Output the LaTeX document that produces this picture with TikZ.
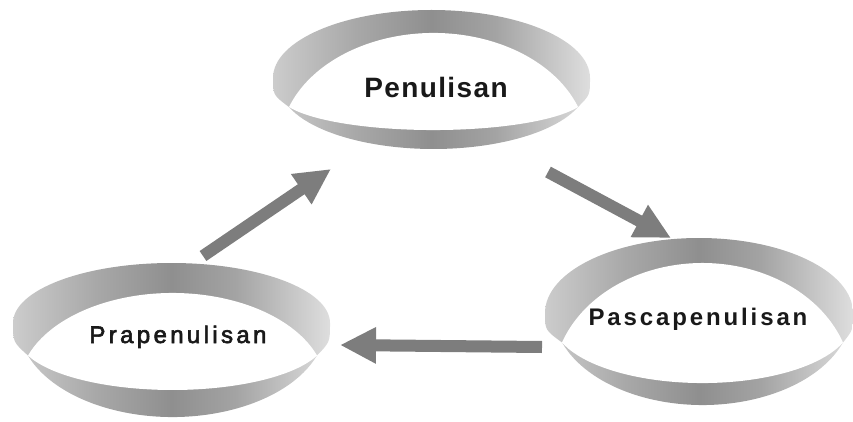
\documentclass[tikz,border=0pt]{standalone}
\usepackage{fontspec}
\usetikzlibrary{arrows.meta}
\newfontfamily\penfont[LetterSpace=5]{Liberation Sans}
\newfontfamily\pasfont[LetterSpace=12]{Liberation Sans}
\newfontfamily\prafont[LetterSpace=14,FakeBold=2.5]{Liberation Sans}
\definecolor{bandL}{gray}{0.80}
\definecolor{bandLM}{gray}{0.66}
\definecolor{bandM}{gray}{0.56}
\definecolor{bandRM}{gray}{0.64}
\definecolor{bandR}{gray}{0.87}
\definecolor{arrowgray}{RGB}{125,125,125}
\pgfdeclarehorizontalshading{bandshade}{100bp}{color(0bp)=(bandL); color(25bp)=(bandL); color(38bp)=(bandLM); color(50bp)=(bandM); color(60bp)=(bandRM); color(75bp)=(bandR); color(100bp)=(bandR)}
\tikzset{
  flowarrow/.style={draw=arrowgray, line width=12pt, line cap=butt,
    -{Triangle[width=34pt,length=36pt]}, arrowgray},
  band/.style={shading=bandshade, draw=none},
  hole/.style={fill=white, draw=none},
  label/.style={anchor=base, inner sep=0pt, text=black!90}
}
\begin{document}
\begin{tikzpicture}[x=1pt,y=1pt]
\useasboundingbox (0,0) rectangle (853,-422);

% arrow end points
\coordinate (a1s) at (203,-256);
\coordinate (a1e) at (331,-169);
\coordinate (a2s) at (548,-172);
\coordinate (a2e) at (671,-238);
\coordinate (a3s) at (542,-347);
\coordinate (a3e) at (340,-345);

\draw[flowarrow] (a1s) -- (a1e);
\draw[flowarrow] (a2s) -- (a2e);
\draw[flowarrow] (a3s) -- (a3e);

% ---- top ring (Penulisan)
\shade[band] (273,-78) arc[start angle=180,end angle=0,x radius=158.5,y radius=68]
  .. controls (590,-95) .. (578,-107)
  arc[start angle=-20,end angle=-160,x radius=153.8,y radius=63.8]
  .. controls (273,-95) .. (273,-78) -- cycle;
\fill[hole] (289,-107) arc[start angle=160,end angle=20,x radius=153.8,y radius=112.5]
  arc[start angle=-20,end angle=-160,x radius=153.8,y radius=35] -- cycle;

% ---- left ring (Prapenulisan)
\shade[band] (13,-323) arc[start angle=180,end angle=0,x radius=158.5,y radius=60]
  .. controls (330,-342) .. (317,-355.5)
  arc[start angle=-20,end angle=-160,x radius=153.8,y radius=93.5]
  .. controls (13,-342) .. (13,-323) -- cycle;
\fill[hole] (28,-355.5) arc[start angle=160,end angle=20,x radius=153.8,y radius=95]
  arc[start angle=-20,end angle=-160,x radius=153.8,y radius=52.4] -- cycle;

% ---- right ring (Pascapenulisan)
\shade[band] (545,-313) arc[start angle=180,end angle=0,x radius=154,y radius=75]
  .. controls (853,-330) .. (843,-342.5)
  arc[start angle=-20,end angle=-160,x radius=149.5,y radius=95]
  .. controls (545,-330) .. (545,-313) -- cycle;
\fill[hole] (562,-342.5) arc[start angle=160,end angle=20,x radius=149.5,y radius=120.8]
  arc[start angle=-20,end angle=-160,x radius=149.5,y radius=61.6] -- cycle;

% ---- labels
\node[label] (pen) at (436,-98) {\penfont\bfseries\fontsize{28}{30}\selectfont Penulisan};
\node[label] (pra) at (178,-343) {\prafont\fontsize{24}{26}\selectfont Prapenulisan};
\node[label] (pas) at (698,-325) {\pasfont\bfseries\fontsize{24}{26}\selectfont Pascapenulisan};
\end{tikzpicture}
\end{document}
